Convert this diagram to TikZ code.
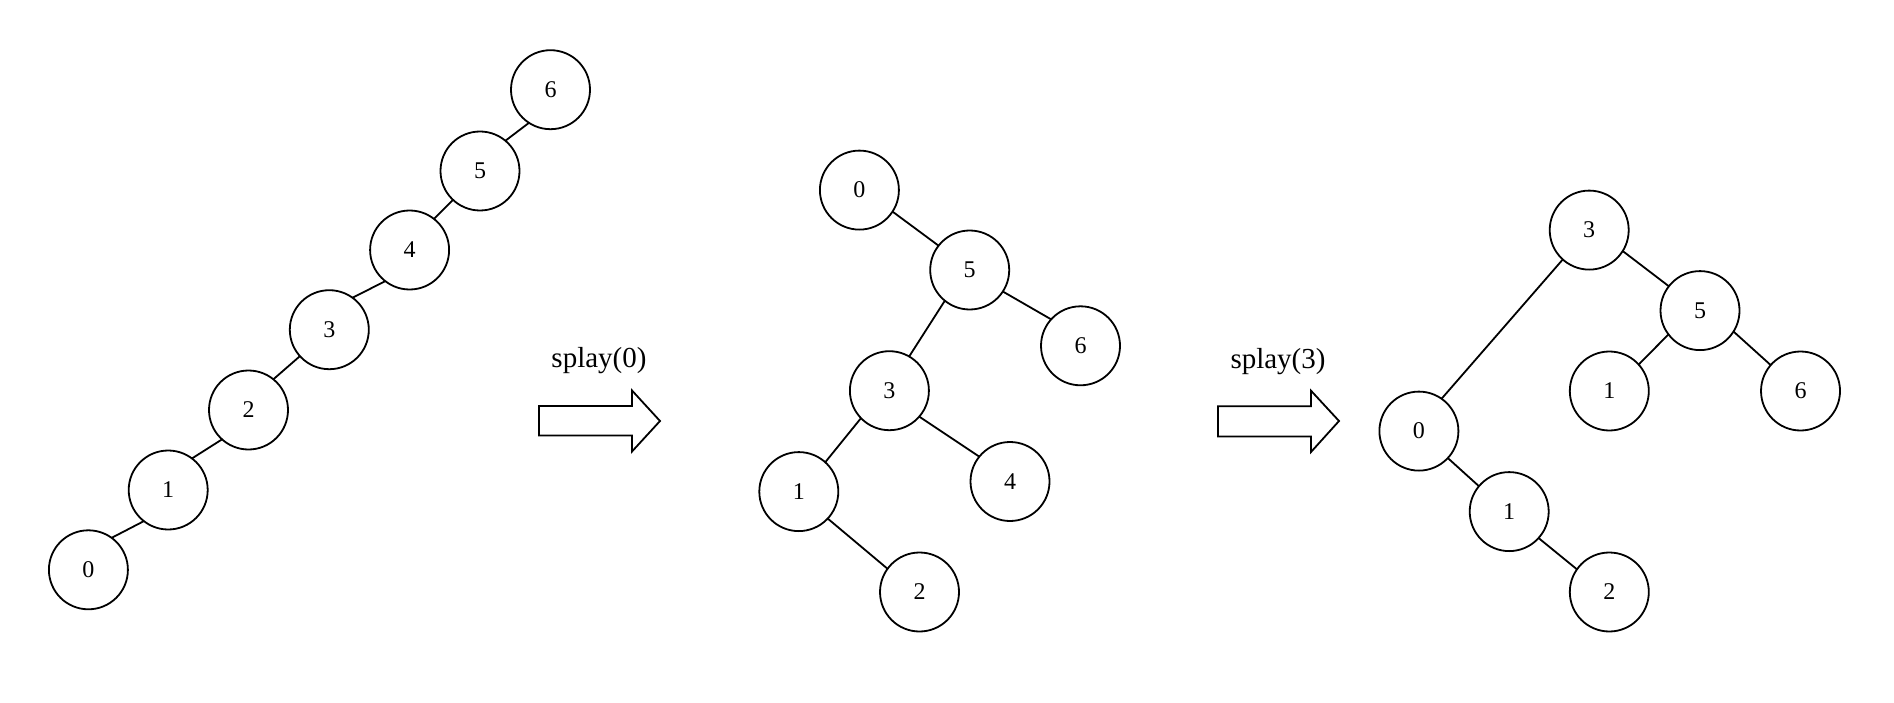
\documentclass[tikz,border=0pt]{standalone}
\usepackage{fontspec}
\setmainfont{Liberation Serif}
\begin{document}
\begin{tikzpicture}[x=1pt,y=-1pt,
  tnode/.style={circle,draw,line width=1.8pt,minimum size=79pt,inner sep=0pt,outer sep=0pt,font=\fontsize{24}{28}\selectfont},
  tedge/.style={line width=1.8pt},
  blockarrow/.style={draw,line width=1.8pt,line join=miter},
  oplabel/.style={anchor=base,inner sep=0pt,font=\fontsize{29}{34}\selectfont}]
\useasboundingbox (0,0) rectangle (1894,703);
% left tree
\node[tnode] (a0) at (88.4,569.8) {0};
\node[tnode] (a1) at (168.2,490) {1};
\node[tnode] (a2) at (248.5,410) {2};
\node[tnode] (a3) at (329.3,329.7) {3};
\node[tnode] (a4) at (409.6,250) {4};
\node[tnode] (a5) at (480,171) {5};
\node[tnode] (a6) at (550.5,89.7) {6};
\draw[tedge] (a0.54) -- (a1.232);
\draw[tedge] (a1.53) -- (a2.228);
\draw[tedge] (a2.51) -- (a3.222);
\draw[tedge] (a3.54) -- (a4.232);
\draw[tedge] (a4.52) -- (a5.227);
\draw[tedge] (a5.50) -- (a6.237);
% first arrow
\node[oplabel] (l0) at (599,367) {splay(0)};
\draw[blockarrow] (539,406) -- (632,406) -- (632,390.5) -- (660,421) -- (632,451.5) -- (632,435.5) -- (539,435.5) -- cycle;
% middle tree
\node[tnode] (b0) at (859.4,190.1) {0};
\node[tnode] (b5) at (969.7,270) {5};
\node[tnode] (b6) at (1080.5,345.8) {6};
\node[tnode] (b3) at (889.4,390.7) {3};
\node[tnode] (b4) at (1010,481.5) {4};
\node[tnode] (b1) at (798.8,491.6) {1};
\node[tnode] (b2) at (919.5,592) {2};
\draw[tedge] (b0.-33) -- (b5.142);
\draw[tedge] (b5.-33) -- (b6.138);
\draw[tedge] (b5.231) -- (b3.60);
\draw[tedge] (b3.224) -- (b1.48);
\draw[tedge] (b3.-41) -- (b4.141);
\draw[tedge] (b1.-43) -- (b2.144);
% second arrow
\node[oplabel] (l3) at (1278,368) {splay(3)};
\draw[blockarrow] (1218,406.3) -- (1311,406.3) -- (1311,390.7) -- (1339,421) -- (1311,452) -- (1311,436.4) -- (1218,436.4) -- cycle;
% right tree
\node[tnode] (c3) at (1589.2,230.1) {3};
\node[tnode] (c5) at (1700,310.6) {5};
\node[tnode] (c1r) at (1609.3,391) {1};
\node[tnode] (c6) at (1800.5,391) {6};
\node[tnode] (c0) at (1418.9,431.1) {0};
\node[tnode] (c1) at (1509.2,511.6) {1};
\node[tnode] (c2) at (1609.3,592) {2};
\draw[tedge] (c3.228) -- (c0.55);
\draw[tedge] (c3.-32) -- (c5.142);
\draw[tedge] (c5.217) -- (c1r.42);
\draw[tedge] (c5.-32) -- (c6.139);
\draw[tedge] (c0.-43) -- (c1.140);
\draw[tedge] (c1.-42) -- (c2.145);
\end{tikzpicture}
\end{document}
